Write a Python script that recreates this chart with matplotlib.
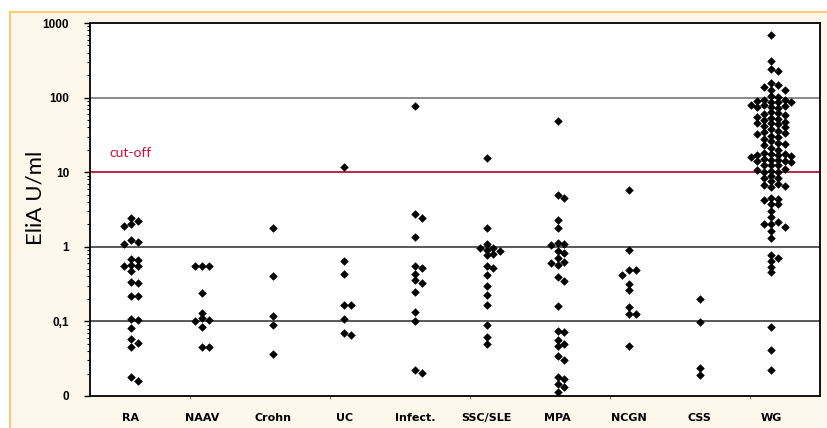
import numpy as np
import matplotlib.pyplot as plt
from matplotlib.patches import Rectangle
from matplotlib.lines import Line2D
from matplotlib.ticker import FixedLocator, LogLocator, NullFormatter

# data (EliA U/ml)
categories = ["RA", "NAAV", "Crohn", "UC", "Infect.", "SSC/SLE", "MPA", "NCGN", "CSS", "WG"]

ra = [2.45, 2.2, 2.0, 1.9, 1.25, 1.17, 1.08, 0.68, 0.66, 0.57, 0.55, 0.55, 0.48,
      0.34, 0.33, 0.22, 0.22, 0.107, 0.104, 0.081, 0.058, 0.052, 0.046, 0.018, 0.016]
naav = [0.55, 0.55, 0.55, 0.24, 0.13, 0.11, 0.105, 0.10, 0.085, 0.046, 0.046]
crohn = [1.8, 0.40, 0.117, 0.09, 0.036]
uc = [11.6, 0.64, 0.435, 0.165, 0.165, 0.108, 0.069, 0.065]
infect = [78, 2.77, 2.4, 1.35, 0.56, 0.52, 0.43, 0.36, 0.33, 0.245, 0.133, 0.10, 0.022, 0.0205]
ssc_sle = [15.4, 1.77, 1.1, 0.97, 0.95, 0.92, 0.88, 0.81, 0.77, 0.56, 0.52, 0.42,
           0.30, 0.227, 0.166, 0.089, 0.062, 0.050]
mpa = [48, 4.9, 4.5, 2.3, 1.8, 1.14, 1.09, 1.06, 0.875, 0.82, 0.70, 0.62, 0.60, 0.57,
       0.39, 0.35, 0.16, 0.074, 0.071, 0.057, 0.050, 0.047, 0.034, 0.030, 0.018,
       0.0167, 0.0145, 0.0133, 0.0114]
ncgn = [5.75, 0.90, 0.49, 0.49, 0.42, 0.32, 0.26, 0.157, 0.124, 0.124, 0.047]
css = [0.20, 0.097, 0.024, 0.019]
wg = [690, 310, 240, 226, 155, 146, 140, 126, 126, 104, 101,
      93, 92, 90, 88, 87, 86, 80, 79, 78, 75, 74, 73, 64, 62, 60, 58, 55, 53, 52, 50,
      47, 46, 45, 44, 42, 40, 38, 36, 35, 34, 33, 31, 30, 28, 26, 25,
      24, 23, 21, 20, 18, 17.5, 17.5, 17, 17, 16.5, 16, 15, 14.5, 14.5, 14, 14, 13.5,
      12.5, 12.4, 12.3, 11, 10.8, 10.4, 10.2, 10.1,
      8.9, 8.4, 8.3, 7.6, 6.9, 6.8, 6.6, 6.3, 4.5, 4.4, 4.2, 3.8, 3.7, 3.0, 2.5,
      2.15, 2.0, 2.0, 1.85, 1.65, 1.32, 0.77, 0.71, 0.65, 0.54, 0.46, 0.083, 0.042, 0.022]
groups = [ra, naav, crohn, uc, infect, ssc_sle, mpa, ncgn, css, wg]

cutoff = 10
ytick_values = [0.01, 0.1, 1, 10, 100, 1000]
ytick_labels = ["0", "0,1", "1", "10", "100", "1000"]

W, H = 827, 428
ax_l, ax_b, ax_w, ax_h = 90, 32, 730, 373
xmin, xmax = -0.577, 9.69
decade_px = ax_h / 5.0
unit_px = ax_w / (xmax - xmin)


def swarm(vals, step_px=6.8, min_dy=5.0):
    # spread points that sit too close together into side-by-side columns
    y = np.log10(vals) * decade_px
    cols = np.zeros(len(vals))
    placed = []
    cands = [0]
    for j in range(1, 15):
        cands += [j, -j]
    for i in np.argsort(-y):
        for c in cands:
            if all(not (pc == c and abs(y[i] - py) < min_dy) for pc, py in placed):
                break
        cols[i] = c
        placed.append((c, y[i]))
    return cols * step_px / unit_px


fig = plt.figure(figsize=(W / 100, H / 100), dpi=100)
fig.patches.append(Rectangle((10 / W, 0), 1, (H - 12) / H, transform=fig.transFigure,
                             facecolor="#FEF8EC", edgecolor="none", zorder=-10))
fig.lines.append(Line2D([10 / W, 1], [(H - 12) / H] * 2, transform=fig.transFigure,
                        color="#FBCB72", lw=1.5, zorder=-5))
fig.lines.append(Line2D([10 / W] * 2, [0, (H - 12) / H], transform=fig.transFigure,
                        color="#FBCB72", lw=1.5, zorder=-5))

ax = fig.add_axes([ax_l / W, ax_b / H, ax_w / W, ax_h / H])
ax.set_facecolor("white")

for i, vals in enumerate(groups):
    xs = i + swarm(vals)
    ax.scatter(xs, vals, marker="D", s=19, color="black", linewidths=0, zorder=3)

ax.axhline(0.1, color="#2b2b2b", lw=1.1, zorder=1)
ax.axhline(1, color="#2b2b2b", lw=1.1, zorder=1)
ax.axhline(100, color="#808080", lw=1.3, zorder=1)
ax.axhline(cutoff, color="#B5173A", lw=1.3, zorder=1)
ax.text(-0.3, 18, "cut-off", color="#D0103A", fontsize=10, family="Lato",
        va="center", ha="left")

ax.set_yscale("log")
ax.set_ylim(0.01, 1000)
ax.set_xlim(xmin, xmax)
ax.yaxis.set_major_locator(FixedLocator(ytick_values))
ax.set_yticklabels(ytick_labels, fontsize=8.5, fontweight="bold", family="Liberation Sans")
ax.yaxis.set_minor_locator(LogLocator(base=10, subs=np.arange(2, 10)))
ax.yaxis.set_minor_formatter(NullFormatter())
ax.tick_params(axis="y", which="major", direction="out", length=4, width=1, pad=11)
ax.tick_params(axis="y", which="minor", direction="out", length=2, width=0.8)

ax.set_xticks(range(len(categories)))
ax.set_xticklabels(categories, fontsize=8, fontweight="bold", family="DejaVu Sans")
ax.tick_params(axis="x", which="major", length=0, pad=12)
ax.set_xticks(np.arange(0.83, 9.5, 1.97), minor=True)
ax.tick_params(axis="x", which="minor", direction="out", length=2, width=0.8, color="#888888")

for sp in ax.spines.values():
    sp.set_linewidth(1.3)
    sp.set_color("black")

fig.text(35 / W, 1 - 198 / H, "EliA U/ml", rotation=90, fontsize=16, family="Lato",
         ha="center", va="center")

fig.savefig("out.png", dpi=100)
